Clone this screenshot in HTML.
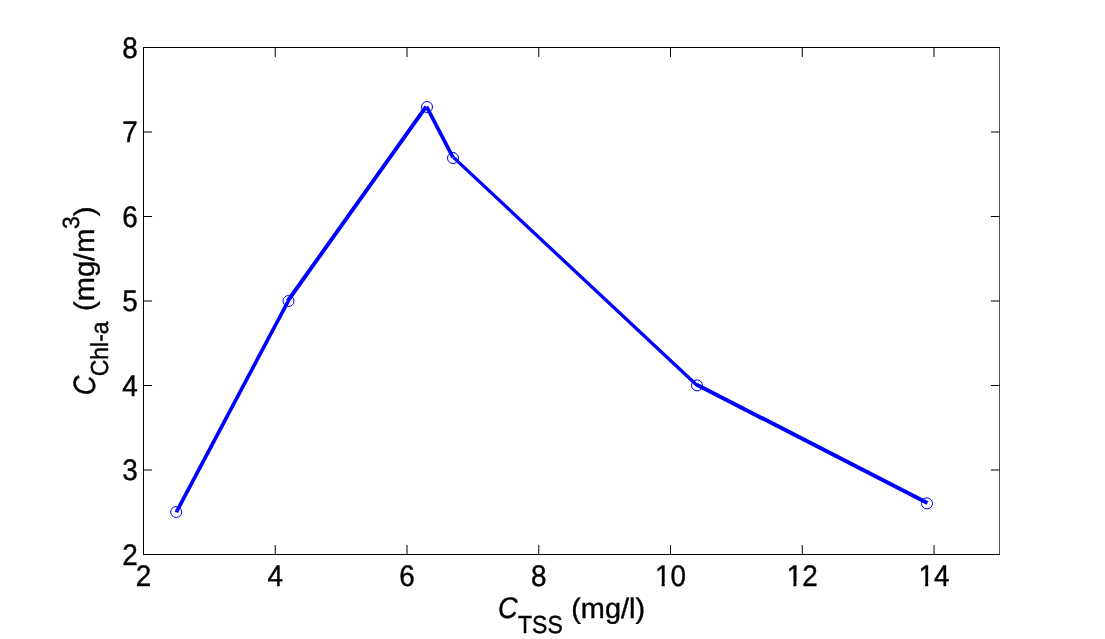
<!DOCTYPE html>
<html><head><meta charset="utf-8"><title>plot</title>
<style>
html,body{margin:0;padding:0;background:#fff;overflow:hidden}
svg{display:block;will-change:transform}
text{font-family:"Liberation Sans",sans-serif;fill:#000;text-rendering:geometricPrecision}
</style></head><body>
<svg width="1105" height="639" viewBox="0 0 1105 639">
<rect x="0" y="0" width="1105" height="639" fill="#fff"/>
<g stroke="#000" stroke-width="1" fill="none">
<path d="M999.5 47.5V554.5" stroke="#505050"/>
<path d="M143.5 555.0V47.0M143.0 47.5H1000.0M1000.0 554.5H143.0"/>
<path d="M275.26 554.5V545.0M275.26 47.5V57.0"/>
<path d="M407.01 554.5V545.0M407.01 47.5V57.0"/>
<path d="M538.77 554.5V545.0M538.77 47.5V57.0"/>
<path d="M670.53 554.5V545.0M670.53 47.5V57.0"/>
<path d="M802.28 554.5V545.0M802.28 47.5V57.0"/>
<path d="M934.04 554.5V545.0M934.04 47.5V57.0"/>
<path d="M143.5 470.00H152.1M999.5 470.00H990.90"/>
<path d="M143.5 385.50H152.1M999.5 385.50H990.90"/>
<path d="M143.5 301.00H152.1M999.5 301.00H990.90"/>
<path d="M143.5 216.50H152.1M999.5 216.50H990.90"/>
<path d="M143.5 132.00H152.1M999.5 132.00H990.90"/>
</g>
<text transform="translate(143.50,585.90) scale(0.95,1.015)" font-size="29.33" text-anchor="middle" stroke="#000" stroke-width="0.4">2</text>
<text transform="translate(275.26,585.90) scale(0.95,1.015)" font-size="29.33" text-anchor="middle" stroke="#000" stroke-width="0.4">4</text>
<text transform="translate(407.01,585.90) scale(0.95,1.015)" font-size="29.33" text-anchor="middle" stroke="#000" stroke-width="0.4">6</text>
<text transform="translate(538.77,585.90) scale(0.95,1.015)" font-size="29.33" text-anchor="middle" stroke="#000" stroke-width="0.4">8</text>
<text transform="translate(670.53,585.90) scale(0.95,1.015)" font-size="29.33" text-anchor="middle" stroke="#000" stroke-width="0.4">10</text>
<text transform="translate(802.28,585.90) scale(0.95,1.015)" font-size="29.33" text-anchor="middle" stroke="#000" stroke-width="0.4">12</text>
<text transform="translate(934.04,585.90) scale(0.95,1.015)" font-size="29.33" text-anchor="middle" stroke="#000" stroke-width="0.4">14</text>
<text transform="translate(137.70,564.80) scale(0.95,1.015)" font-size="29.33" text-anchor="end" stroke="#000" stroke-width="0.4">2</text>
<text transform="translate(137.70,480.30) scale(0.95,1.015)" font-size="29.33" text-anchor="end" stroke="#000" stroke-width="0.4">3</text>
<text transform="translate(137.70,395.80) scale(0.95,1.015)" font-size="29.33" text-anchor="end" stroke="#000" stroke-width="0.4">4</text>
<text transform="translate(137.70,311.30) scale(0.95,1.015)" font-size="29.33" text-anchor="end" stroke="#000" stroke-width="0.4">5</text>
<text transform="translate(137.70,226.80) scale(0.95,1.015)" font-size="29.33" text-anchor="end" stroke="#000" stroke-width="0.4">6</text>
<text transform="translate(137.70,142.30) scale(0.95,1.015)" font-size="29.33" text-anchor="end" stroke="#000" stroke-width="0.4">7</text>
<text transform="translate(137.70,57.80) scale(0.95,1.015)" font-size="29.33" text-anchor="end" stroke="#000" stroke-width="0.4">8</text>
<rect x="655.13" y="582" width="6.51" height="5.5" fill="#fff"/>
<rect x="664.68" y="582" width="6" height="5.5" fill="#fff"/>
<rect x="786.88" y="582" width="6.51" height="5.5" fill="#fff"/>
<rect x="796.43" y="582" width="6" height="5.5" fill="#fff"/>
<rect x="918.64" y="582" width="6.51" height="5.5" fill="#fff"/>
<rect x="928.19" y="582" width="6" height="5.5" fill="#fff"/>
<g stroke="#0000ff" fill="none" stroke-linecap="butt">
<line x1="176.29" y1="512.25" x2="288.28" y2="301.00" stroke-width="3.7"/>
<line x1="287.73" y1="301.00" x2="426.08" y2="106.65" stroke-width="3.9"/>
<line x1="426.58" y1="106.65" x2="452.93" y2="157.35" stroke-width="3.66"/>
<line x1="453.43" y1="157.35" x2="697.18" y2="385.50" stroke-width="3.3"/>
<line x1="696.88" y1="384.70" x2="927.45" y2="503.00" stroke-width="4.0"/>
</g>
<circle cx="176.2" cy="512" r="5.5" fill="none" stroke="#0000ff" stroke-width="1"/>
<circle cx="288.5" cy="301" r="5.5" fill="none" stroke="#0000ff" stroke-width="1"/>
<circle cx="427" cy="107" r="5.5" fill="none" stroke="#0000ff" stroke-width="1"/>
<circle cx="453" cy="158" r="5.5" fill="none" stroke="#0000ff" stroke-width="1"/>
<circle cx="697" cy="385.4" r="5.5" fill="none" stroke="#0000ff" stroke-width="1"/>
<circle cx="927" cy="503.4" r="5.5" fill="none" stroke="#0000ff" stroke-width="1"/>
<text transform="translate(498.00,618.00) scale(0.93,1.02)" font-size="29.33" font-style="italic" stroke="#000" stroke-width="0.4">C</text>
<text transform="translate(518.00,632.60) scale(1,1.07)" font-size="23" stroke="#000" stroke-width="0.4">TSS</text>
<text transform="translate(571.20,617.80) scale(0.985,0.97)" font-size="29.33" stroke="#000" stroke-width="0.4">(mg/l)</text>
<text transform="translate(94.60,395.20) rotate(-90) scale(0.93,1.055)" font-size="29.33" font-style="italic" stroke="#000" stroke-width="0.4">C</text>
<text transform="translate(108.20,376.30) rotate(-90) scale(1,1.07)" font-size="23" stroke="#000" stroke-width="0.4">Chl-a</text>
<text transform="translate(94.30,311.00) rotate(-90) scale(0.992,0.97)" font-size="29.33" stroke="#000" stroke-width="0.4">(mg/m</text>
<text transform="translate(79.30,229.00) rotate(-90) scale(1,1.02)" font-size="23" stroke="#000" stroke-width="0.4">3</text>
<text transform="translate(94.30,216.30) rotate(-90) scale(1,0.97)" font-size="29.33" stroke="#000" stroke-width="0.4">)</text>
</svg></body></html>
